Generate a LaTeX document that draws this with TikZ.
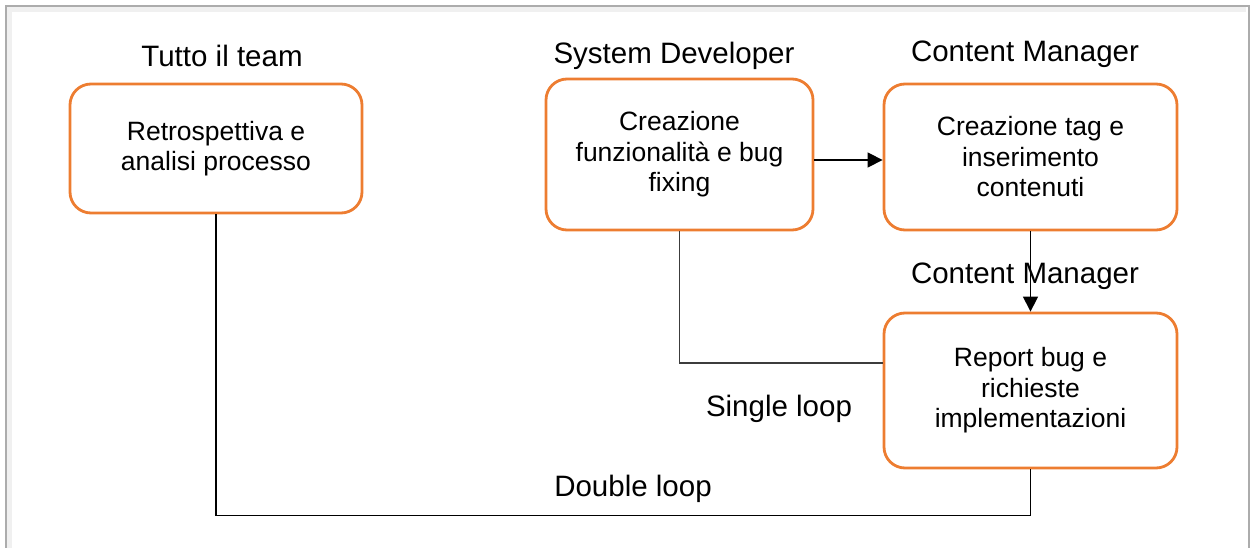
\documentclass[tikz,border=0pt]{standalone}
\usepackage{fontspec}
\setmainfont{Liberation Sans}
\usetikzlibrary{arrows.meta,positioning}
\definecolor{boxorange}{RGB}{237,125,49}
\definecolor{framegray}{RGB}{172,172,172}
\definecolor{loopgray}{RGB}{60,60,60}

\begin{document}
\begin{tikzpicture}[x=1pt,y=-1pt,
    task/.style={draw=boxorange, line width=2.8pt, rounded corners=21pt, align=center,
      inner sep=0pt, font=\fontsize{26.5}{30.5}\selectfont},
    role/.style={font=\fontsize{29.5}{34}\selectfont, inner sep=0pt, text depth=0pt},
    flow/.style={-{Triangle[length=15pt,width=15pt]}, line width=1.3pt},
    loopline/.style={line width=1.3pt}]
    \useasboundingbox (0,0) rectangle (1250,548);
    % frame
    \draw[gray!12, line width=5pt] (9.5,560) -- (9.5,9.5) -- (1246,9.5);
    \draw[framegray, line width=1.6pt] (6,560) -- (6,6) -- (1249,6) -- (1249,560);
    % activities
    \node[task, minimum width=292pt, minimum height=129pt] (retro) at (216,148.5)
      {Retrospettiva e\\analisi processo};
    \node[task, minimum width=267pt, minimum height=151pt] (dev) at (679.5,154.5)
      {Creazione\\funzionalità e bug\\fixing};
    \node[task, minimum width=293pt, minimum height=146pt] (tag) at (1030.5,157)
      {Creazione tag e\\inserimento\\contenuti};
    \node[task, minimum width=293pt, minimum height=155pt] (report) at (1030.5,390.5)
      {Report bug e\\richieste\\implementazioni};
    % roles
    \node[role, above=16pt of retro, xshift=6pt] (teamlbl) {Tutto il team};
    \node[role, above=14pt of dev, xshift=-5.5pt] (devlbl) {System Developer};
    \node[role, above=21pt of tag, xshift=-5.5pt] (cmlbl) {Content Manager};
    \node[role, above=28pt of report, xshift=-5.5pt] (cmlbltwo) {Content Manager};
    % flow
    \draw[flow] ([yshift=-5.5pt]dev.east) -- ([yshift=-3pt]tag.west);
    \draw[flow] (tag.south) -- (report.north);
    % loops
    \draw[loopline, loopgray] (dev.south) |- ([yshift=27.5pt]report.west);
    \coordinate (dlrow) at (0,515.5);
    \draw[loopline] (retro.south) -- (retro.south |- dlrow) -- (report.south |- dlrow) -- (report.south);
    \node[role, anchor=base] (singlelbl) at (779,416) {Single loop};
    \node[role, anchor=base] (doublelbl) at (633,496) {Double loop};
  \end{tikzpicture}
\end{document}
